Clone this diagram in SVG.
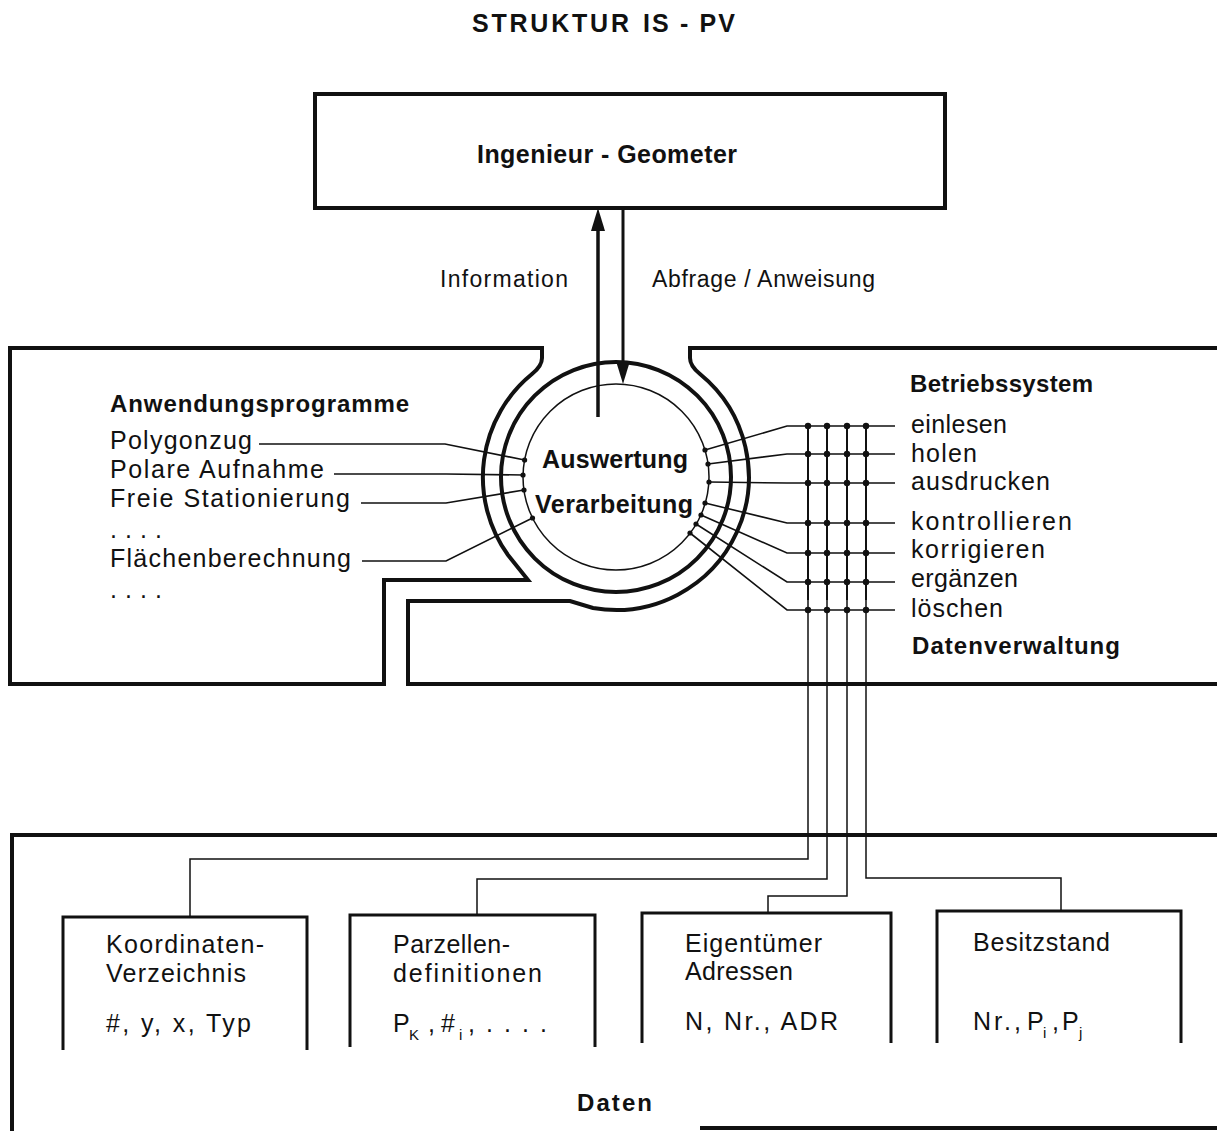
<svg xmlns="http://www.w3.org/2000/svg" width="1217" height="1131" viewBox="0 0 1217 1131">
  <style>
    .frame { fill: none; stroke: #111; stroke-width: 4; stroke-linejoin: miter; }
    .box { fill: none; stroke: #111; stroke-width: 3; }
    .ring-thick { fill: none; stroke: #111; stroke-width: 4; }
    .ring-thin { fill: none; stroke: #111; stroke-width: 1.5; }
    .wire { fill: none; stroke: #111; stroke-width: 1.6; }
    .grid { fill: none; stroke: #111; stroke-width: 2; }
    .feed { fill: none; stroke: #111; stroke-width: 1.5; }
    .dot { fill: #111; }
    text { font-family: "Liberation Sans", Arial, sans-serif; fill: #111; }
    .t { font-size: 25px; }
    .d { font-size: 25px; }
    .b { font-size: 24px; font-weight: bold; }
    .h { font-size: 25px; font-weight: bold; }
    .m { font-size: 23px; }
    .sub { font-size: 15px; }
  </style>
  <defs>
    <marker id="head" markerUnits="userSpaceOnUse" viewBox="0 0 23 14" markerWidth="23" markerHeight="14" refX="11" refY="7" orient="auto">
      <path d="M0,0 L23,7 L0,14 Z" fill="#111"/>
    </marker>
  </defs>

  <rect width="1217" height="1131" fill="#fff"/>

  <!-- heading -->
  <text class="h" x="472" y="32" font-size="26" textLength="157" lengthAdjust="spacing">STRUKTUR</text>
  <text class="h" x="643" y="32" font-size="26" textLength="92" lengthAdjust="spacing">IS - PV</text>

  <!-- user -->
  <g id="ingenieur">
    <rect class="frame" x="315" y="94" width="630" height="114"/>
    <text class="h" x="477" y="163" textLength="260" lengthAdjust="spacing">Ingenieur - Geometer</text>
  </g>

  <!-- application programs (left block with round cut-out) -->
  <g id="anwendungsprogramme">
    <path class="frame" d="M10,348 L542,348 L542,358 Q542,366 532,374 A133,133 0 0 0 508,555 L528,580 L384,580 L384,684 L10,684 Z"/>
    <text class="b" x="110" y="412" textLength="299" lengthAdjust="spacing">Anwendungsprogramme</text>
    <text class="t" x="110" y="449" textLength="142" lengthAdjust="spacing">Polygonzug</text>
    <text class="t" x="110" y="478" textLength="214" lengthAdjust="spacing">Polare Aufnahme</text>
    <text class="t" x="110" y="507" textLength="240" lengthAdjust="spacing">Freie Stationierung</text>
    <text class="t" x="110" y="538" textLength="52" lengthAdjust="spacing">. . . .</text>
    <text class="t" x="110" y="567" textLength="241" lengthAdjust="spacing">Flächenberechnung</text>
    <text class="t" x="110" y="598" textLength="52" lengthAdjust="spacing">. . . .</text>
  </g>

  <!-- operating system / data management (right block) -->
  <g id="betriebssystem">
    <path class="frame" d="M1217,348 L690,348 L690,358 Q690,366 700,374 A133,133 0 0 1 593,608 L570,601 L408,601 L408,684 L1217,684"/>
    <text class="b" x="910" y="392" textLength="183" lengthAdjust="spacing">Betriebssystem</text>
    <text class="t" x="911" y="433" textLength="96" lengthAdjust="spacing">einlesen</text>
    <text class="t" x="911" y="462" textLength="66" lengthAdjust="spacing">holen</text>
    <text class="t" x="911" y="490" textLength="139" lengthAdjust="spacing">ausdrucken</text>
    <text class="t" x="911" y="530" textLength="161" lengthAdjust="spacing">kontrollieren</text>
    <text class="t" x="911" y="558" textLength="134" lengthAdjust="spacing">korrigieren</text>
    <text class="t" x="911" y="587" textLength="107" lengthAdjust="spacing">ergänzen</text>
    <text class="t" x="911" y="617" textLength="92" lengthAdjust="spacing">löschen</text>
    <text class="b" x="912" y="654" textLength="208" lengthAdjust="spacing">Datenverwaltung</text>
  </g>

  <!-- processing core -->
  <g id="auswertung">
    <circle class="ring-thick" cx="616" cy="477" r="115"/>
    <circle class="ring-thin" cx="616" cy="477" r="93"/>
    <text class="h" x="542" y="468" font-size="26" textLength="146" lengthAdjust="spacing">Auswertung</text>
    <text class="h" x="535" y="513" font-size="26" textLength="158" lengthAdjust="spacing">Verarbeitung</text>
  </g>

  <!-- data store -->
  <g id="daten">
    <path class="frame" d="M12,1131 L12,835 L1217,835"/>
    <path class="frame" d="M700,1128 L1217,1128"/>
    <text class="b" x="577" y="1111" font-size="25" textLength="75" lengthAdjust="spacing">Daten</text>
  </g>

  <g id="koordinaten">
    <path class="box" d="M63,1050 L63,917 L307,917 L307,1050"/>
    <text class="d" x="106" y="953" textLength="158" lengthAdjust="spacing">Koordinaten-</text>
    <text class="d" x="106" y="982" textLength="140" lengthAdjust="spacing">Verzeichnis</text>
    <text class="d" x="106" y="1032" textLength="145" lengthAdjust="spacing">#, y, x, Typ</text>
  </g>

  <g id="parzellen">
    <path class="box" d="M350,1047 L350,915 L595,915 L595,1047"/>
    <text class="d" x="393" y="953" textLength="117" lengthAdjust="spacing">Parzellen-</text>
    <text class="d" x="393" y="982" textLength="149" lengthAdjust="spacing">definitionen</text>
    <text class="d" y="1032"><tspan x="393">P</tspan><tspan class="sub" x="409" dy="8">K</tspan><tspan x="428" dy="-8">,</tspan><tspan x="441">#</tspan><tspan class="sub" x="459" dy="8">i</tspan><tspan x="468" dy="-8">,</tspan><tspan x="486" textLength="61" lengthAdjust="spacing">. . . .</tspan></text>
  </g>

  <g id="eigentuemer">
    <path class="box" d="M642,1043 L642,913 L891,913 L891,1043"/>
    <text class="d" x="685" y="952" textLength="137" lengthAdjust="spacing">Eigentümer</text>
    <text class="d" x="685" y="980" textLength="108" lengthAdjust="spacing">Adressen</text>
    <text class="d" x="685" y="1030" textLength="153" lengthAdjust="spacing">N, Nr., ADR</text>
  </g>

  <g id="besitzstand">
    <path class="box" d="M937,1043 L937,911 L1181,911 L1181,1043"/>
    <text class="d" x="973" y="951" textLength="137" lengthAdjust="spacing">Besitzstand</text>
    <text class="d" y="1030"><tspan x="973" textLength="48" lengthAdjust="spacing">Nr.,</tspan><tspan x="1027">P</tspan><tspan class="sub" x="1043" dy="8">i</tspan><tspan x="1052" dy="-8">,</tspan><tspan x="1062">P</tspan><tspan class="sub" x="1079" dy="8">j</tspan></text>
  </g>

  <!-- connectors -->
  <g id="connectors">
    <!-- user dialogue -->
    <line x1="598" y1="417" x2="598" y2="220" stroke="#111" stroke-width="3.5" marker-end="url(#head)"/>
    <line x1="623" y1="208" x2="623" y2="372" stroke="#111" stroke-width="3" marker-end="url(#head)"/>
    <text class="m" x="440" y="287" textLength="128" lengthAdjust="spacing">Information</text>
    <text class="m" x="652" y="287" textLength="223" lengthAdjust="spacing">Abfrage / Anweisung</text>

    <!-- programs to core -->
    <path class="wire" d="M259,444 L445,444 L524.6,460"/>
    <path class="wire" d="M334,474 L446,474 L523,475"/>
    <path class="wire" d="M361,503 L446,503 L524,490"/>
    <path class="wire" d="M362,561 L446,561 L532.5,518"/>
    <circle class="dot" cx="524.6" cy="460" r="2.6"/>
    <circle class="dot" cx="523" cy="475" r="2.6"/>
    <circle class="dot" cx="524" cy="490" r="2.6"/>
    <circle class="dot" cx="532.5" cy="518" r="2.6"/>

    <!-- core to system functions -->
    <path class="wire" d="M705,450 L787,426 L895,426"/>
    <path class="wire" d="M708,464 L787,454 L895,454"/>
    <path class="wire" d="M709,482 L787,483 L895,483"/>
    <path class="wire" d="M705,503 L787,523 L895,523"/>
    <path class="wire" d="M701,515 L787,553 L895,553"/>
    <path class="wire" d="M696,524 L787,582 L895,582"/>
    <path class="wire" d="M690,533 L787,610 L895,610"/>
    <circle class="dot" cx="705" cy="450" r="2.6"/>
    <circle class="dot" cx="708" cy="464" r="2.6"/>
    <circle class="dot" cx="709" cy="482" r="2.6"/>
    <circle class="dot" cx="705" cy="503" r="2.6"/>
    <circle class="dot" cx="701" cy="515" r="2.6"/>
    <circle class="dot" cx="696" cy="524" r="2.6"/>
    <circle class="dot" cx="690" cy="533" r="2.6"/>

    <!-- bus lines down to the data files -->
    <path class="grid" d="M808,426 V600"/>
    <path class="grid" d="M827,426 V600"/>
    <path class="grid" d="M847,426 V600"/>
    <path class="grid" d="M866,426 V600"/>
    <path class="feed" d="M808,600 V859 H190 V917"/>
    <path class="feed" d="M827,600 V879 H477 V915"/>
    <path class="feed" d="M847,600 V896 H768 V913"/>
    <path class="feed" d="M866,600 V878 H1061 V911"/>

    <!-- bus junctions -->
    <g class="dot">
      <circle cx="808" cy="426" r="3.2"/><circle cx="827" cy="426" r="3.2"/><circle cx="847" cy="426" r="3.2"/><circle cx="866" cy="426" r="3.2"/>
      <circle cx="808" cy="454" r="3.2"/><circle cx="827" cy="454" r="3.2"/><circle cx="847" cy="454" r="3.2"/><circle cx="866" cy="454" r="3.2"/>
      <circle cx="808" cy="483" r="3.2"/><circle cx="827" cy="483" r="3.2"/><circle cx="847" cy="483" r="3.2"/><circle cx="866" cy="483" r="3.2"/>
      <circle cx="808" cy="523" r="3.2"/><circle cx="827" cy="523" r="3.2"/><circle cx="847" cy="523" r="3.2"/><circle cx="866" cy="523" r="3.2"/>
      <circle cx="808" cy="553" r="3.2"/><circle cx="827" cy="553" r="3.2"/><circle cx="847" cy="553" r="3.2"/><circle cx="866" cy="553" r="3.2"/>
      <circle cx="808" cy="582" r="3.2"/><circle cx="827" cy="582" r="3.2"/><circle cx="847" cy="582" r="3.2"/><circle cx="866" cy="582" r="3.2"/>
      <circle cx="808" cy="610" r="3.2"/><circle cx="827" cy="610" r="3.2"/><circle cx="847" cy="610" r="3.2"/><circle cx="866" cy="610" r="3.2"/>
    </g>
  </g>
</svg>
